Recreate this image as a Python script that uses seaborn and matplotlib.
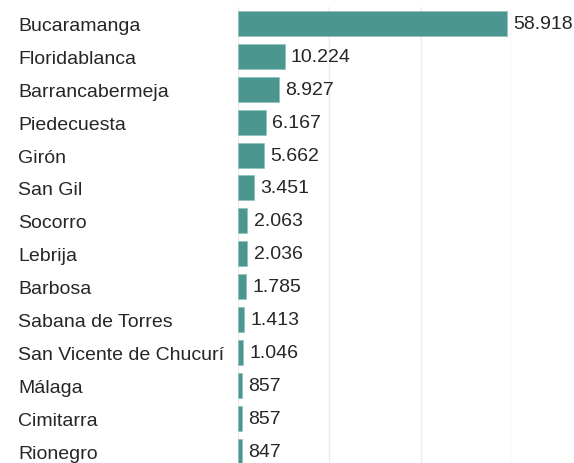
import matplotlib
matplotlib.use("Agg")
import matplotlib.pyplot as plt
import seaborn as sns
import pandas as pd

cities = ["Bucaramanga", "Floridablanca", "Barrancabermeja", "Piedecuesta",
          "Girón", "San Gil", "Socorro", "Lebrija", "Barbosa",
          "Sabana de Torres", "San Vicente de Chucurí", "Málaga",
          "Cimitarra", "Rionegro"]
values = [58918, 10224, 8927, 6167, 5662, 3451, 2063, 2036, 1785,
          1413, 1046, 857, 857, 847]
grid_ticks = [0, 20000, 40000, 60000]

bar_color = "#4b978f"
text_color = "#262626"

sns.set_style("white")
plt.rcParams["font.family"] = ["Liberation Sans", "DejaVu Sans"]

df = pd.DataFrame({"city": cities, "value": values})

fig = plt.figure(figsize=(5.74, 4.64), dpi=100)
ax = fig.add_axes([238 / 574, 0, (512 - 238) / 574, (464 - 8) / 464])

sns.barplot(data=df, y="city", x="value", orient="h", color=bar_color,
            saturation=1, width=0.76, edgecolor="#8cc2bc", linewidth=0.5,
            ax=ax, zorder=2)

ax.set_xlim(0, 60000)
ax.set_ylim((464 - 25) / 32.85, -0.5)
ax.set_xticks(grid_ticks)
ax.grid(axis="x", color="#ebebeb", linewidth=1, zorder=0)
ax.set_axisbelow(True)
ax.tick_params(axis="x", bottom=False, labelbottom=False)
ax.tick_params(axis="y", length=0, pad=158.4, labelsize=14,
               labelcolor=text_color)
for lbl in ax.get_yticklabels():
    lbl.set_ha("left")
ax.set_xlabel("")
ax.set_ylabel("")
for s in ax.spines.values():
    s.set_visible(False)

# value labels at the end of each bar
for p, v in zip(ax.patches, values):
    ax.annotate(f"{v:,}".replace(",", "."),
                xy=(p.get_width(), p.get_y() + p.get_height() / 2),
                xytext=(4.5, 0), textcoords="offset points",
                ha="left", va="center", fontsize=14, color=text_color,
                annotation_clip=False)

fig.savefig("out.png", dpi=100)
